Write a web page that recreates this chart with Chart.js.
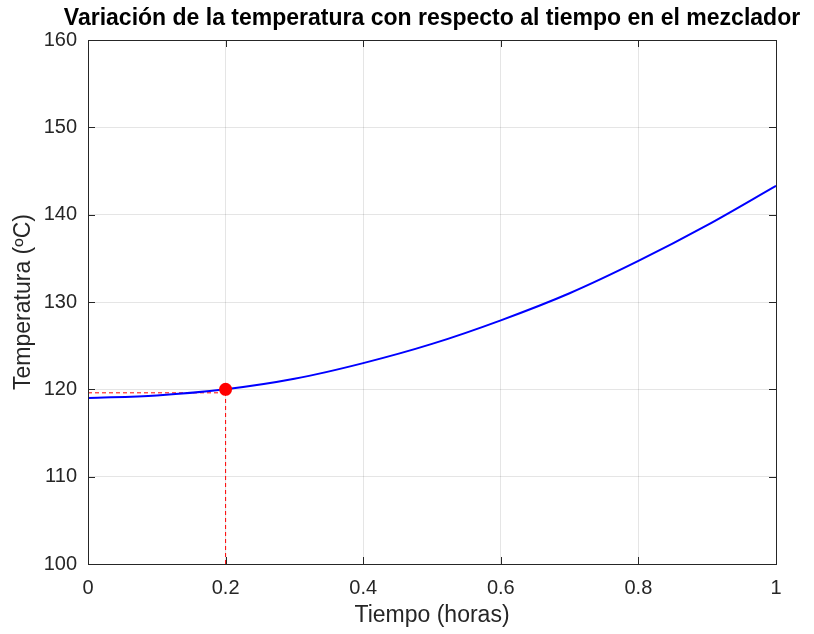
<!DOCTYPE html>
<html>
<head>
<meta charset="utf-8">
<script src="https://cdn.jsdelivr.net/npm/chart.js@4.4.1/dist/chart.umd.min.js"></script>
<style>
  html, body { margin:0; padding:0; background:#fff; }
  #wrap { width:814px; height:634px; position:relative; }
</style>
</head>
<body>
<div id="wrap"><canvas id="tempChart"></canvas></div>
<script>
// ── Data ──────────────────────────────────────────────────────────────────────
const tiempo       = [0, 0.1, 0.2, 0.3, 0.4, 0.5, 0.6, 0.7, 0.8, 0.9, 1.0];
const temperatura  = [119.0, 119.3, 120.0, 121.2, 123.0, 125.2, 127.9, 131.0, 134.7, 138.8, 143.3];
const puntoX       = [0.2];
const puntoY       = [120.0];
const guiaHorizX   = [0, 0.2];
const guiaHorizY   = [119.6, 119.6];
const guiaVertX    = [0.2, 0.2];
const guiaVertY    = [100, 120.0];
const xTicks       = [0, 0.2, 0.4, 0.6, 0.8, 1];
const yTicks       = [100, 110, 120, 130, 140, 150, 160];

const TITLE  = 'Variación de la temperatura con respecto al tiempo en el mezclador';
const XLABEL = 'Tiempo (horas)';
const YLABEL = 'Temperatura (ºC)';

const FONT   = '"Liberation Sans", Arial, Helvetica, sans-serif';
const AXCOL  = '#262626';
const toXY   = (xs, ys) => xs.map((x,i) => ({ x, y: ys[i] }));

// ── MATLAB-ish box, inward ticks and title ───────────────────────────────────
const matlabBox = {
  id: 'matlabBox',
  afterDraw(chart) {
    const { ctx, chartArea: a, scales } = chart;
    const L = 7;
    ctx.save();
    ctx.strokeStyle = AXCOL;
    ctx.lineWidth = 1;
    ctx.beginPath();
    xTicks.forEach(v => {
      const px = Math.round(scales.x.getPixelForValue(v)) + 0.5;
      ctx.moveTo(px, a.bottom); ctx.lineTo(px, a.bottom - L);
      ctx.moveTo(px, a.top);    ctx.lineTo(px, a.top + L);
    });
    yTicks.forEach(v => {
      const py = Math.round(scales.y.getPixelForValue(v)) + 0.5;
      ctx.moveTo(a.left, py);  ctx.lineTo(a.left + L, py);
      ctx.moveTo(a.right, py); ctx.lineTo(a.right - L, py);
    });
    ctx.stroke();
    ctx.strokeRect(Math.round(a.left) + 0.5, Math.round(a.top) + 0.5,
                   Math.round(a.right - a.left), Math.round(a.bottom - a.top));

    ctx.fillStyle = '#000';
    ctx.font = `bold 23px ${FONT}`;
    ctx.textAlign = 'center';
    ctx.textBaseline = 'alphabetic';
    ctx.fillText(TITLE, (a.left + a.right) / 2, 25);
    ctx.restore();
  }
};

// ── Chart ─────────────────────────────────────────────────────────────────────
const tickFont = { family: FONT, size: 20 };
const lblFont  = { family: FONT, size: 23 };

new Chart(document.getElementById('tempChart').getContext('2d'), {
  type: 'line',
  data: {
    datasets: [
      { data: toXY(puntoX, puntoY), showLine:false, pointRadius:6.5, pointHoverRadius:6.5,
        pointBackgroundColor:'#ff0000', pointBorderColor:'#ff0000', borderWidth:0, order:0 },
      { data: toXY(tiempo, temperatura), borderColor:'#0000ff', borderWidth:2,
        pointRadius:0, cubicInterpolationMode:'monotone', fill:false, order:1 },
      { data: toXY(guiaHorizX, guiaHorizY), borderColor:'#ff0000', borderWidth:1,
        borderDash:[4,3], pointRadius:0, fill:false, order:2 },
      { data: toXY(guiaVertX, guiaVertY), borderColor:'#ff0000', borderWidth:1,
        borderDash:[4,3], pointRadius:0, fill:false, order:2 }
    ]
  },
  options: {
    responsive:true, maintainAspectRatio:false, animation:false,
    layout: { padding: { top:40, right:38, left:0, bottom:0 } },
    plugins: { legend:{ display:false }, title:{ display:false }, tooltip:{ enabled:false } },
    scales: {
      x: {
        type:'linear', min:0, max:1,
        afterFit: s => { s.height = 70; },
        afterBuildTicks: s => { s.ticks = xTicks.map(v => ({ value:v })); },
        grid: { color:'rgba(38,38,38,0.12)', drawTicks:false },
        border: { display:false },
        ticks: { padding:12, color:AXCOL, font:tickFont, maxRotation:0,
                 callback: v => String(Number(v.toFixed(1))) },
        title: { display:true, text:XLABEL, color:AXCOL, font:lblFont, padding:{ top:0, bottom:5 } }
      },
      y: {
        type:'linear', min:100, max:160,
        afterFit: s => { s.width = 88; },
        afterBuildTicks: s => { s.ticks = yTicks.map(v => ({ value:v })); },
        grid: { color:'rgba(38,38,38,0.12)', drawTicks:false },
        border: { display:false },
        ticks: { padding:11, color:AXCOL, font:tickFont },
        title: { display:true, text:YLABEL, color:AXCOL, font:lblFont, padding:{ top:10, bottom:0 } }
      }
    }
  },
  plugins: [matlabBox]
});
</script>
</body>
</html>
